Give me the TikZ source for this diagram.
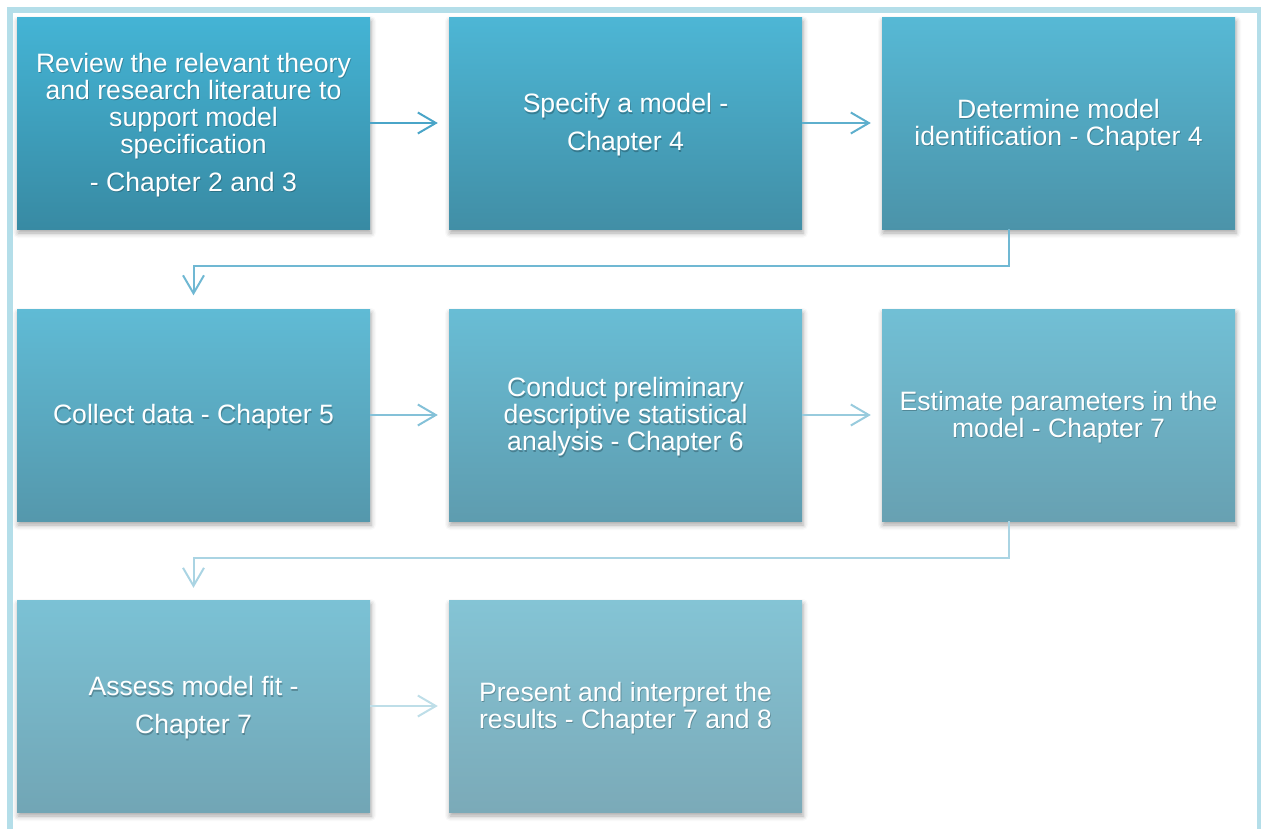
\documentclass[tikz,border=0pt]{standalone}
\usepackage{fontspec}
\setmainfont{Liberation Sans}
\usetikzlibrary{arrows.meta,shadows.blur}

% box shades run from the first colour pair to the second
\definecolor{frameblue}{RGB}{180,222,233}
\definecolor{topA}{RGB}{68,180,213}
\definecolor{topB}{RGB}{132,196,213}
\definecolor{botA}{RGB}{56,138,163}
\definecolor{botB}{RGB}{123,170,184}
\definecolor{arrA}{RGB}{74,165,200}
\definecolor{arrB}{RGB}{190,222,232}

\tikzset{
  box/.style={rectangle, minimum width=353pt, minimum height=212pt, inner sep=0pt,
    shading=axis,
    blur shadow={shadow xshift=1pt, shadow yshift=-4pt, shadow blur radius=5pt, shadow opacity=35}},
  boxtext/.style={text=white, align=center, inner sep=0pt,
    font=\fontsize{26.6}{27}\selectfont},
  conn/.style={line width=2pt, -{Straight Barb[length=18pt,width=21pt]}},
}

% name, x, y, shade mix (100 = first colours), text
\newcommand{\flowbox}[5]{%
  \node[box, top color=topA!#4!topB, bottom color=botA!#4!botB] (#1) at (#2,#3) {};
  \node[boxtext, text=black!70!botA, opacity=.3, xshift=.8pt, yshift=-3.3pt] (#1s) at (#1.center) {#5};
  \node[boxtext, yshift=-2pt] (#1t) at (#1.center) {#5};
}

\begin{document}
\begin{tikzpicture}[x=1pt, y=-1pt]
\useasboundingbox (0,0) rectangle (1261,828);

% outer frame, open at the bottom
\draw[frameblue, line width=5.5pt] (10,840) -- (10,10) -- (1259.5,10) -- (1259.5,840);

\flowbox{b1}{193.5}{123}{100}{Review the relevant theory\\and research literature to\\support model\\specification\\[11pt]- Chapter 2 and 3}
\flowbox{b2}{625.5}{123}{86}{Specify a model -\\[11pt]Chapter 4}
\flowbox{b3}{1058.5}{123}{71}{Determine model\\identification - Chapter 4}
\flowbox{b4}{193.5}{415}{57}{Collect data - Chapter 5}
\flowbox{b5}{625.5}{415}{43}{Conduct preliminary\\descriptive statistical\\analysis - Chapter 6}
\flowbox{b6}{1058.5}{415}{29}{Estimate parameters in the\\model - Chapter 7}
\flowbox{b7}{193.5}{706}{14}{Assess model fit -\\[11pt]Chapter 7}
\flowbox{b8}{625.5}{706}{0}{Present and interpret the\\results - Chapter 7 and 8}

% connectors
\draw[conn, draw=arrA] (b1.east) -- ([xshift=-11pt]b2.west);
\draw[conn, draw=arrA!83!arrB] (b2.east) -- ([xshift=-11pt]b3.west);
\draw[conn, draw=arrA!67!arrB] ([xshift=-50pt]b3.south) -- ++(0,37) -| ([yshift=13.5pt]b4.north);
\draw[conn, draw=arrA!50!arrB] (b4.east) -- ([xshift=-11pt]b5.west);
\draw[conn, draw=arrA!33!arrB] (b5.east) -- ([xshift=-11pt]b6.west);
\draw[conn, draw=arrA!17!arrB] ([xshift=-50pt]b6.south) -- ++(0,37) -| ([yshift=12pt]b7.north);
\draw[conn, draw=arrB] (b7.east) -- ([xshift=-11pt]b8.west);
\end{tikzpicture}
\end{document}
